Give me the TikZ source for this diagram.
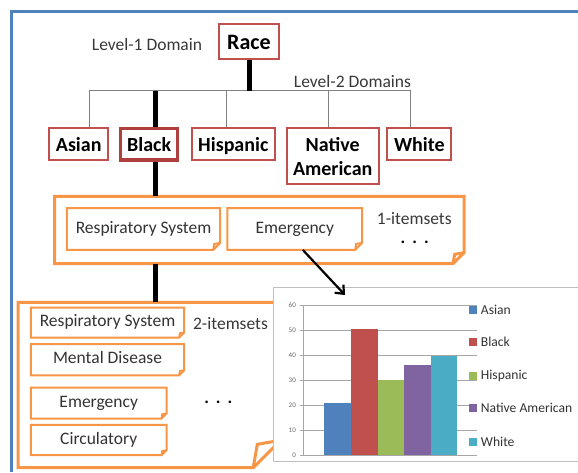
\documentclass[tikz,border=0pt]{standalone}
\usepackage{fontspec}
\setmainfont{Carlito}
\usetikzlibrary{arrows.meta}

\definecolor{boxred}{HTML}{C0504D}
\definecolor{boxreddark}{HTML}{B0403D}
\definecolor{ofcorange}{HTML}{F79646}
\definecolor{ofcblue}{HTML}{4F81BD}
\definecolor{barA}{HTML}{4F81BD}
\definecolor{barB}{HTML}{C0504D}
\definecolor{barC}{HTML}{9BBB59}
\definecolor{barD}{HTML}{8064A2}
\definecolor{barE}{HTML}{4BACC6}

\tikzset{
  plain/.style={inner sep=0pt, text=black!78, font=\fontsize{17.5}{21}\selectfont},
  catbox/.style={draw=boxred, line width=2pt, inner sep=0pt, align=center,
    font=\bfseries\fontsize{20}{24}\selectfont},
  onerow/.style={text height=15pt, text depth=0pt},
  linkthin/.style={draw=black!50, line width=1pt},
  linkthick/.style={draw=black, line width=5pt},
  itembox/.style={inner sep=0pt, text=black!80, text height=12pt, text depth=4pt,
    font=\fontsize{17.5}{21}\selectfont},
  orangeline/.style={draw=ofcorange, line join=miter},
  gridline/.style={draw=black!35, line width=0.8pt},
  ticklbl/.style={inner sep=0pt, text=black!60, font=\fontsize{7}{8}\selectfont},
  leglbl/.style={inner sep=0pt, text=black!80, font=\fontsize{13.6}{16}\selectfont},
  pointer/.style={draw=black, line width=2.2pt, -{Straight Barb[length=7pt,width=12pt]}},
}

% rectangle outline with a folded bottom-right corner around a named node
\newcommand{\foldedframe}[3]{%
  \draw[orangeline, line width=#3] (#1.north west) -- (#1.north east)
    -- ([yshift=#2]#1.south east) -- ([xshift=-#2]#1.south east)
    -- (#1.south west) -- cycle;
  \draw[orangeline, line width=#3] ([xshift=-#2]#1.south east)
    -- ([xshift=-0.85*#2, yshift=0.85*#2]#1.south east)
    -- ([yshift=#2]#1.south east);
}

\begin{document}
\begin{tikzpicture}[x=1pt, y=-1pt]
\useasboundingbox (0,0) rectangle (578,472);
\clip (0,0) rectangle (578,472);

% outer frame, open to the right and bottom
\draw[draw=ofcblue, line width=2.6pt] (578,11.7) -- (11.7,11.7) -- (11.7,472);

% level-1 domain
\node[catbox, onerow, text height=16pt, minimum width=60pt, minimum height=35pt,
      font=\bfseries\fontsize{22}{26}\selectfont] (race) at (249,41.3) {Race};
\node[plain] (l1) at (147,44.3) {Level-1 Domain};

% level-2 domains
\node[catbox, onerow, minimum width=58.7pt, minimum height=32pt] (asian) at (78.7,144.2) {Asian};
\node[catbox, onerow, draw=boxreddark, line width=3.5pt, minimum width=57pt, minimum height=31.5pt] (black) at (149.2,144.2) {Black};
\node[catbox, onerow, minimum width=83.3pt, minimum height=32pt] (hisp) at (233.3,144.2) {Hispanic};
\node[catbox, minimum width=92pt, minimum height=55.7pt] (natam) at (332.7,156.1) {Native\\American};
\node[catbox, onerow, minimum width=64pt, minimum height=32pt] (white) at (419.3,144.2) {White};
\node[plain] (l2) at (352.5,81.7) {Level-2 Domains};

% tree connectors
\coordinate (ta) at (89.3,90.7);
\coordinate (tb) at (155,90.7);
\coordinate (th) at (226.7,90.7);
\coordinate (tn) at (328,90.7);
\coordinate (tw) at (410.7,90.7);
\draw[linkthin] (ta) -- (tw);
\draw[linkthin] (ta) -- (ta |- asian.north);
\draw[linkthin] (th) -- (th |- hisp.north);
\draw[linkthin] (tn) -- (tn |- natam.north);
\draw[linkthin] (tw) -- (tw |- white.north);
\draw[linkthick] (race.south) -- (race.south |- tb);
\draw[linkthick] (tb) -- (tb |- black.north);

% 1-itemsets
\node[inner sep=0pt, minimum width=409pt, minimum height=67pt] (one) at (259.3,230) {};
\foldedframe{one}{11pt}{3pt}
\node[itembox, minimum width=153pt, minimum height=41.4pt] (rsa) at (143.5,229) {Respiratory System};
\node[itembox, minimum width=134.3pt, minimum height=41.4pt] (ema) at (294.8,229) {Emergency};
\foldedframe{rsa}{7pt}{2pt}
\foldedframe{ema}{7pt}{2pt}
\node[plain] (it1) at (414.3,218.3) {1-itemsets};
\node[plain, font=\bfseries\fontsize{17.5}{21}\selectfont, text=black] (dots1) at (414.7,242) {.\hspace{7pt}.\hspace{7pt}.};

% 2-itemsets
\node[inner sep=0pt, minimum width=262.3pt, minimum height=165pt] (two) at (149.35,385) {};
\foldedframe{two}{27.5pt}{3pt}
\node[itembox, minimum width=153pt, minimum height=29.6pt] (rsb) at (107.5,322.5) {Respiratory System};
\node[itembox, minimum width=153pt, minimum height=30.7pt] (md) at (107.5,359.7) {Mental Disease};
\node[itembox, minimum width=135.3pt, minimum height=30.6pt] (emb) at (98.7,403) {Emergency};
\node[itembox, minimum width=135.3pt, minimum height=30pt] (circ) at (98.7,440) {Circulatory};
\foreach \n in {rsb,md,emb,circ} {\foldedframe{\n}{5pt}{2pt}}
\node[plain] (it2) at (230.5,323.3) {2-itemsets};
\node[plain, font=\bfseries\fontsize{17.5}{21}\selectfont, text=black] (dots2) at (218.3,402.7) {.\hspace{7pt}.\hspace{7pt}.};

% stem from Black down through the itemset levels
\draw[linkthick] (tb |- black.south) -- (tb |- one.north);
\draw[linkthick] (tb |- one.south) -- (tb |- two.north);

% bar chart
\draw[draw=black!25, line width=1pt, fill=white] (273,287) rectangle (600,461.7);
\foreach \v in {10,20,...,60} {
  \draw[gridline] (303.3,{455-2.5*\v}) -- (476.7,{455-2.5*\v});
}
\foreach \v in {0,10,...,60} {
  \draw[gridline] (299.5,{455-2.5*\v}) -- (303.3,{455-2.5*\v});
  \node[ticklbl, anchor=east] at (296,{455-2.5*\v}) {\v};
}
\draw[gridline] (303.3,305) -- (303.3,455) -- (476.7,455);
\foreach \i/\v/\c in {0/21/barA,1/50.5/barB,2/30/barC,3/36/barD,4/39.8/barE} {
  \fill[\c] ({324.3+26.6*\i},455) rectangle ({324.3+26.6*(\i+1)},{455-2.5*\v});
}
\foreach \n/\t/\y/\c in {a/Asian/310/barA, b/Black/342/barB, h/Hispanic/375.7/barC,
                         n/Native American/408.3/barD, w/White/441.7/barE} {
  \fill[\c] (469.3,\y-4) rectangle (477.3,\y+4);
  \node[leglbl, anchor=west] (leg\n) at (480.7,\y) {\t};
}

% pointer from the 1-itemset to its chart
\coordinate (tip) at (345,295);
\draw[pointer] ([xshift=8pt]ema.south) -- (tip);
\end{tikzpicture}
\end{document}
